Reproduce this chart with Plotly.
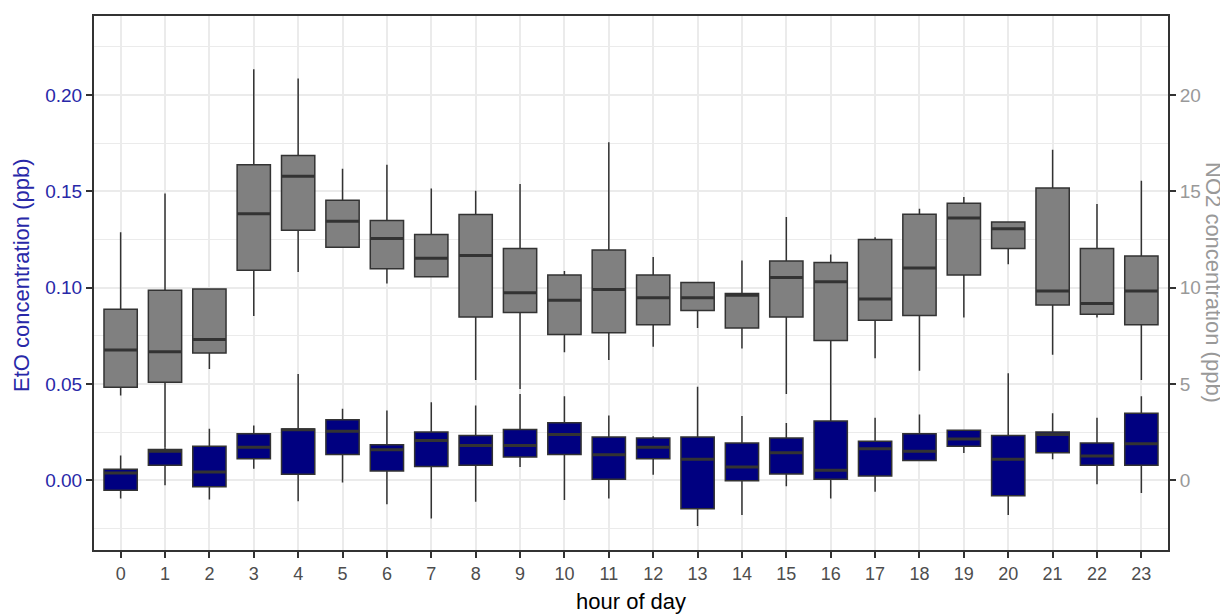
import plotly.graph_objects as go

hours = list(range(24))

# NO2 (ppb): lower whisker, Q1, median, Q3, upper whisker
no2_low = [4.40, 1.70, 5.78, 8.53, 10.81, 12.10, 10.22, 10.57, 5.21, 4.74, 6.64, 6.24,
           6.93, 7.90, 6.84, 4.48, 3.07, 6.34, 5.69, 8.45, 11.21, 6.52, 8.45, 5.21]
no2_q1 = [4.83, 5.09, 6.60, 10.90, 12.98, 12.10, 10.98, 10.57, 8.48, 8.71, 7.57, 7.66,
          8.07, 8.81, 7.91, 8.47, 7.26, 8.31, 8.55, 10.66, 12.03, 9.10, 8.62, 8.07]
no2_med = [6.76, 6.67, 7.31, 13.84, 15.78, 13.45, 12.55, 11.52, 11.67, 9.74, 9.34, 9.90,
           9.48, 9.48, 9.60, 10.53, 10.31, 9.41, 11.02, 13.62, 13.05, 9.83, 9.17, 9.83]
no2_q3 = [8.88, 9.86, 9.93, 16.38, 16.86, 14.53, 13.48, 12.76, 13.79, 12.03, 10.66, 11.95,
          10.66, 10.26, 9.69, 11.38, 11.31, 12.50, 13.81, 14.38, 13.41, 15.17, 12.03, 11.64]
no2_high = [12.88, 14.88, 9.93, 21.34, 20.86, 16.17, 16.38, 15.14, 15.03, 15.38, 10.86, 17.55,
            11.59, 10.26, 11.41, 13.67, 11.72, 12.62, 14.09, 14.71, 13.41, 17.16, 14.34, 15.55]

# EtO (ppb)
eto_low = [-0.0095, -0.0026, -0.0100, 0.0060, -0.0109, -0.0012, -0.0124, -0.0198, -0.0112, 0.0069,
           -0.0103, -0.0095, 0.0029, -0.0238, -0.0180, -0.0031, -0.0095, -0.0060, 0.0103, 0.0141,
           -0.0180, 0.0109, -0.0021, -0.0066]
eto_q1 = [-0.0052, 0.0078, -0.0034, 0.0112, 0.0031, 0.0134, 0.0048, 0.0072, 0.0078, 0.0121,
          0.0134, 0.0005, 0.0112, -0.0148, -0.0003, 0.0033, 0.0005, 0.0022, 0.0103, 0.0176,
          -0.0081, 0.0143, 0.0078, 0.0078]
eto_med = [0.0038, 0.0150, 0.0043, 0.0172, 0.0262, 0.0255, 0.0159, 0.0207, 0.0181, 0.0181,
           0.0238, 0.0133, 0.0172, 0.0109, 0.0069, 0.0143, 0.0052, 0.0164, 0.0150, 0.0214,
           0.0109, 0.0238, 0.0126, 0.0190]
eto_q3 = [0.0057, 0.0160, 0.0176, 0.0241, 0.0266, 0.0314, 0.0184, 0.0250, 0.0233, 0.0264,
          0.0298, 0.0224, 0.0219, 0.0224, 0.0193, 0.0219, 0.0307, 0.0203, 0.0241, 0.0259,
          0.0233, 0.0250, 0.0193, 0.0348]
eto_high = [0.0129, 0.0170, 0.0267, 0.0284, 0.0552, 0.0371, 0.0362, 0.0405, 0.0388, 0.0448,
            0.0436, 0.0336, 0.0228, 0.0486, 0.0333, 0.0297, 0.0307, 0.0324, 0.0341, 0.0259,
            0.0555, 0.0348, 0.0324, 0.0436]

SCALE = 100.0  # NO2 = EtO * 100 (secondary axis)
Y_RANGE = [-0.0362, 0.241]
BOX_W = 0.75

FONT = "Liberation Sans, Arial, sans-serif"
BLUE_TXT = "#2828a8"
GREY_TXT = "#999999"
EDGE = "#333333"


def median_segments(meds):
    xs, ys = [], []
    for h, m in zip(hours, meds):
        xs += [h - BOX_W / 2, h + BOX_W / 2, None]
        ys += [m, m, None]
    return xs, ys


fig = go.Figure()

no2_scaled_med = [v / SCALE for v in no2_med]
fig.add_trace(go.Box(
    x=hours,
    lowerfence=[v / SCALE for v in no2_low],
    q1=[v / SCALE for v in no2_q1],
    median=no2_scaled_med,
    q3=[v / SCALE for v in no2_q3],
    upperfence=[v / SCALE for v in no2_high],
    fillcolor="#808080", line=dict(color=EDGE, width=1.5),
    whiskerwidth=0, width=BOX_W, boxpoints=False, showlegend=False,
    name="NO2", hoverinfo="skip",
))
mx, my = median_segments(no2_scaled_med)
fig.add_trace(go.Scatter(x=mx, y=my, mode="lines", line=dict(color=EDGE, width=3),
                         showlegend=False, hoverinfo="skip"))

fig.add_trace(go.Box(
    x=hours,
    lowerfence=eto_low, q1=eto_q1, median=eto_med, q3=eto_q3, upperfence=eto_high,
    fillcolor="#000080", line=dict(color=EDGE, width=1.5),
    whiskerwidth=0, width=BOX_W, boxpoints=False, showlegend=False,
    name="EtO", hoverinfo="skip",
))
mx, my = median_segments(eto_med)
fig.add_trace(go.Scatter(x=mx, y=my, mode="lines", line=dict(color=EDGE, width=3),
                         showlegend=False, hoverinfo="skip"))

# invisible trace to activate secondary axis
fig.add_trace(go.Scatter(x=[0], y=[None], yaxis="y2", showlegend=False,
                         hoverinfo="skip", mode="markers", marker=dict(opacity=0)))

fig.update_layout(
    width=1220, height=608,
    paper_bgcolor="white", plot_bgcolor="white",
    margin=dict(l=86, r=60, t=6, b=66),
    boxmode="overlay",
    font=dict(family=FONT),
    xaxis=dict(
        range=[-0.6, 23.6], tickmode="array", tickvals=hours,
        ticktext=[str(h) for h in hours],
        showgrid=True, gridcolor="#ebebeb", gridwidth=2,
        showline=True, linecolor=EDGE, linewidth=2, mirror=True,
        ticks="outside", ticklen=6, tickcolor=EDGE, tickwidth=1.5,
        tickfont=dict(size=18, color="#4d4d4d", family=FONT),
        zeroline=False,
    ),
    yaxis=dict(
        range=Y_RANGE, tickmode="linear", tick0=0, dtick=0.05, tickformat=".2f",
        showgrid=True, gridcolor="#ebebeb", gridwidth=2,
        minor=dict(tick0=0.025, dtick=0.05, showgrid=True, gridcolor="#ebebeb", gridwidth=1),
        showline=True, linecolor=EDGE, linewidth=2, mirror=True,
        ticks="outside", ticklen=6, tickcolor=EDGE, tickwidth=1.5,
        tickfont=dict(size=19, color=BLUE_TXT, family=FONT),
        zeroline=False,
    ),
    yaxis2=dict(
        range=[Y_RANGE[0] * SCALE, Y_RANGE[1] * SCALE], overlaying="y", side="right",
        tickmode="linear", tick0=0, dtick=5, showgrid=False,
        showline=True, linecolor=EDGE, linewidth=2,
        ticks="outside", ticklen=6, tickcolor=EDGE, tickwidth=1.5,
        tickfont=dict(size=19, color=GREY_TXT, family=FONT),
        zeroline=False,
    ),
    annotations=[
        dict(text="EtO concentration (ppb)", xref="paper", yref="paper",
             x=-0.067, y=0.515, xanchor="center", yanchor="middle", textangle=-90,
             showarrow=False, font=dict(size=22, color=BLUE_TXT, family=FONT)),
        dict(text="NO2 concentration (ppb)", xref="paper", yref="paper",
             x=1.0428, y=0.5, xanchor="center", yanchor="middle", textangle=90,
             showarrow=False, font=dict(size=22, color=GREY_TXT, family=FONT)),
        dict(text="hour of day", xref="paper", yref="paper",
             x=0.5, y=-0.097, xanchor="center", yanchor="middle",
             showarrow=False, font=dict(size=22, color="black", family=FONT)),
    ],
)

fig.write_html("out.html")
